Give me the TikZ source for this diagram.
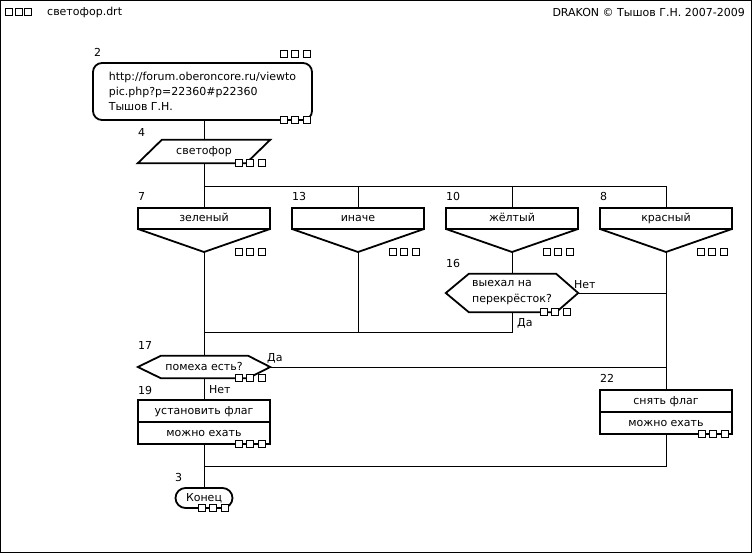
\documentclass[tikz,border=0pt]{standalone}
\usepackage{fontspec}
\setmainfont{DejaVu Sans}
\usetikzlibrary{positioning}
\newcommand{\tribox}[3][11.5]{\foreach \sqi in {0,1,2} \filldraw[sqbox] ({#2+#1*\sqi},{#3-3.5}) rectangle ++(7,7);}

\begin{document}
\begin{tikzpicture}[x=1pt, y=-1pt, font=\fontsize{11}{15}\selectfont,
    conn/.style={line width=0.9pt},
    iconline/.style={line width=1.8pt},
    icon/.style={draw, line width=1.8pt, minimum width=132pt, inner sep=0pt, outer sep=0pt},
    oneline/.style={text height=8pt, text depth=2pt},
    lbl/.style={anchor=west, inner sep=0pt},
    sqbox/.style={draw=black, fill=white, line width=0.9pt}]
        \useasboundingbox (0,0) rectangle (753,554);
        \draw[conn] (0.5,0.5) rectangle (751.5,552.5);

        % header
        \tribox[9.5]{5.5}{11.5}
        \node[lbl] (file) at (47,12) {светофор.drt};
        \node[anchor=east, inner sep=0pt] (copy) at (745,12) {DRAKON © Тышов Г.Н. 2007-2009};

        % title
        \node[icon, rounded corners=9pt, minimum width=219pt, minimum height=57pt, align=left] (n2) at (202.5,91.5) {http://forum.oberoncore.ru/viewto\\pic.php?p=22360\#p22360\\Тышов Г.Н.};
        \node[lbl] (l2) at (94,52) {2};
        \tribox{280}{54}
        \tribox{280}{120}

        % input
        \node[oneline, minimum width=108pt, minimum height=23pt, inner sep=0pt] (n4) at (204,151.5) {светофор};
        \draw[iconline] ([xshift=12pt]n4.north west) -- ([xshift=12pt]n4.north east) -- ([xshift=-12pt]n4.south east) -- ([xshift=-12pt]n4.south west) -- cycle;
        \node[lbl] (l4) at (138,132) {4};
        \tribox{235}{163}

        % switch
        \coordinate (br) at (204,186);
        \node[icon, oneline, minimum height=21pt] (c7) at (204,218.5) {зеленый};
        \node[icon, oneline, minimum height=21pt] (c13) at (358,218.5) {иначе};
        \node[icon, oneline, minimum height=21pt] (c10) at (512,218.5) {жёлтый};
        \node[icon, oneline, minimum height=21pt] (c8) at (666,218.5) {красный};
        \coordinate (c7v) at ([yshift=-23pt]c7.south);
        \coordinate (c13v) at ([yshift=-23pt]c13.south);
        \coordinate (c10v) at ([yshift=-23pt]c10.south);
        \coordinate (c8v) at ([yshift=-23pt]c8.south);
        \draw[iconline] (c7.south west) -- (c7v) -- (c7.south east);
        \draw[iconline] (c13.south west) -- (c13v) -- (c13.south east);
        \draw[iconline] (c10.south west) -- (c10v) -- (c10.south east);
        \draw[iconline] (c8.south west) -- (c8v) -- (c8.south east);
        \node[lbl] (l7) at (138,196) {7};
        \node[lbl] (l13) at (292,196) {13};
        \node[lbl] (l10) at (446,196) {10};
        \node[lbl] (l8) at (600,196) {8};
        \tribox{235}{252}
        \tribox{389}{252}
        \tribox{543}{252}
        \tribox{697}{252}

        % question 16
        \node[align=left, font=\fontsize{11}{16}\selectfont, minimum width=132pt, minimum height=38pt, inner sep=0pt] (q16) at (512,293) {выехал на\\перекрёсток?};
        \draw[iconline] (q16.west) -- ([xshift=23pt]q16.north west) -- ([xshift=-22pt]q16.north east) -- (q16.east) -- ([xshift=-22pt]q16.south east) -- ([xshift=23pt]q16.south west) -- cycle;
        \node[lbl] (l16) at (446,263) {16};
        \node[lbl] (q16n) at (574,285) {Нет};
        \node[lbl] (q16y) at (517,323) {Да};
        \tribox{540}{312}

        % question 17
        \node[oneline, minimum width=132pt, minimum height=22pt, inner sep=0pt] (q17) at (204,367) {помеха есть?};
        \draw[iconline] (q17.west) -- ([xshift=23pt]q17.north west) -- ([xshift=-22pt]q17.north east) -- (q17.east) -- ([xshift=-22pt]q17.south east) -- ([xshift=23pt]q17.south west) -- cycle;
        \node[lbl] (l17) at (138,345) {17};
        \node[lbl] (q17y) at (267,358) {Да};
        \node[lbl] (q17n) at (209,390) {Нет};
        \tribox{235}{378}

        % actions
        \node[icon, oneline, minimum height=22pt] (n19a) at (204,411) {установить флаг};
        \node[icon, oneline, minimum height=22pt, below=0pt of n19a] (n19b) {можно ехать};
        \node[lbl] (l19) at (138,390) {19};
        \tribox{235}{444}
        \node[icon, oneline, minimum height=22pt] (n22a) at (666,401) {снять флаг};
        \node[icon, oneline, minimum height=22pt, below=0pt of n22a] (n22b) {можно ехать};
        \node[lbl] (l22) at (600,378) {22};
        \tribox{698}{434}

        % end
        \node[icon, oneline, rounded corners=10pt, minimum width=57pt, minimum height=20pt] (end) at (204,498) {Конец};
        \node[lbl] (l3) at (175,477) {3};
        \tribox{198}{508}

        % lines
        \coordinate (jn) at (204,332);
        \coordinate (mg) at (204,466);
        \draw[conn] (n4.north) -- (n4.north |- n2.south);
        \draw[conn] (n4.south) -- (c7.north);
        \draw[conn] (br) -- (br -| c8.north) -- (c8.north);
        \draw[conn] (br -| c13.north) -- (c13.north);
        \draw[conn] (br -| c10.north) -- (c10.north);
        \draw[conn] (c7v) -- (q17.north);
        \draw[conn] (c13v) -- (c13v |- jn);
        \draw[conn] (c10v) -- (q16.north);
        \draw[conn] (q16.south) -- (q16.south |- jn) -- (jn);
        \draw[conn] (q16.east) -- (q16.east -| c8v);
        \draw[conn] (c8v) -- (n22a.north);
        \draw[conn] (q17.east) -- (q17.east -| c8v);
        \draw[conn] (q17.south) -- (n19a.north);
        \draw[conn] (n19b.south) -- (end.north);
        \draw[conn] (n22b.south) -- (n22b.south |- mg) -- (mg);
    \end{tikzpicture}
\end{document}
